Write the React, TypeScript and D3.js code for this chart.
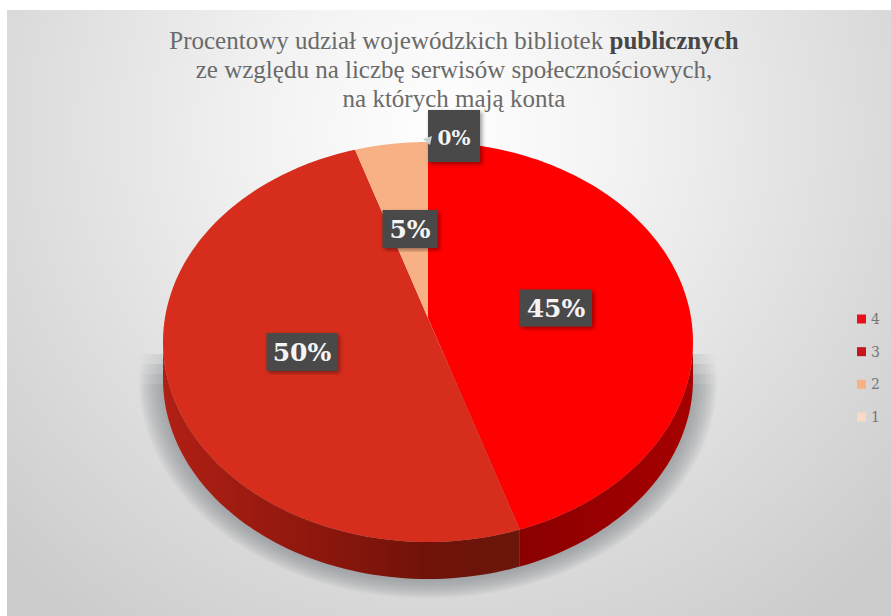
import { useEffect, useRef } from 'react';
import * as d3 from 'd3';

const categories = ['4', '3', '2', '1'];
const shares = [45, 50, 5, 0];
const shareLabels = ['45%', '50%', '5%', '0%'];
const topColors = ['#fe0000', '#d62d1c', '#f7b185', '#fbd9c8'];
const legendColors = ['#e8101c', '#c4161c', '#f7b185', '#fbd9c8'];
const titleLines = [
    [['Procentowy udział wojewódzkich bibliotek ', 400], ['publicznych', 700]],
    [['ze względu na liczbę serwisów społecznościowych,', 400]],
    [['na których mają konta', 400]],
] as [string, number][][];

const W = 891;
const H = 616;

export default function App() {
    const svgRef = useRef<SVGSVGElement>(null);

    useEffect(() => {
        if (!svgRef.current) return;
        const svg = d3.select(svgRef.current);
        svg.selectAll('*').remove();

        const defs = svg.append('defs');
        const bg = defs.append('radialGradient').attr('id', 'bg')
            .attr('gradientUnits', 'userSpaceOnUse')
            .attr('cx', 445).attr('cy', 130).attr('r', 620);
        bg.append('stop').attr('offset', '0%').attr('stop-color', '#ffffff');
        bg.append('stop').attr('offset', '30%').attr('stop-color', '#f2f2f2');
        bg.append('stop').attr('offset', '65%').attr('stop-color', '#dedede');
        bg.append('stop').attr('offset', '100%').attr('stop-color', '#cbcbcb');
        const labelShadow = defs.append('filter').attr('id', 'labelShadow');
        labelShadow.append('feDropShadow').attr('dx', 2).attr('dy', 2)
            .attr('stdDeviation', 2).attr('flood-color', '#000').attr('flood-opacity', 0.4);

        // Wall shading
        const wall3 = defs.append('linearGradient').attr('id', 'wall3')
            .attr('gradientUnits', 'userSpaceOnUse')
            .attr('x1', 165).attr('x2', 515).attr('y1', 0).attr('y2', 0);
        wall3.append('stop').attr('offset', '0%').attr('stop-color', '#b01f14');
        wall3.append('stop').attr('offset', '45%').attr('stop-color', '#8c170d');
        wall3.append('stop').attr('offset', '75%').attr('stop-color', '#701209');
        wall3.append('stop').attr('offset', '100%').attr('stop-color', '#6b160b');
        const wall4 = defs.append('linearGradient').attr('id', 'wall4')
            .attr('gradientUnits', 'userSpaceOnUse')
            .attr('x1', 515).attr('x2', 693).attr('y1', 0).attr('y2', 0);
        wall4.append('stop').attr('offset', '0%').attr('stop-color', '#8a0000');
        wall4.append('stop').attr('offset', '100%').attr('stop-color', '#a60000');
        const sideFills = ['url(#wall4)', 'url(#wall3)', '#b07a55', '#b59a8a'];

        // Shadow: soft rim from a radial gradient
        const soft = defs.append('radialGradient').attr('id', 'shadowSoft');
        soft.append('stop').attr('offset', '88%').attr('stop-color', '#8f9396').attr('stop-opacity', 0.4);
        soft.append('stop').attr('offset', '94%').attr('stop-color', '#8f9396').attr('stop-opacity', 0.2);
        soft.append('stop').attr('offset', '100%').attr('stop-color', '#8f9396').attr('stop-opacity', 0);

        svg.append('rect').attr('width', W).attr('height', H).attr('fill', '#fff');
        svg.append('rect').attr('x', 7).attr('y', 10).attr('width', W - 7).attr('height', H - 10)
            .attr('fill', 'url(#bg)');

        // Pie geometry
        const cx = 428;
        const cy = 342;
        const rx = 265;
        const ry = 200;
        const depth = 37;
        const tilt = -0.12; // the pie is drawn in perspective, its apex sits above the ellipse centre

        const arcs = d3.pie<number>().sort(null)(shares);

        // Soft shadow under the pie, stacked copies so its top edge fades in
        [354, 364, 374, 384].forEach((top, i) => {
            defs.append('clipPath').attr('id', `shadowClip${i}`)
                .append('rect').attr('x', 0).attr('y', top).attr('width', W).attr('height', H - top);
            svg.append('ellipse')
                .attr('clip-path', `url(#shadowClip${i})`)
                .attr('cx', cx).attr('cy', cy + depth)
                .attr('rx', rx + 25).attr('ry', ry + 20)
                .attr('fill', 'url(#shadowSoft)');
        });

        // Pie angle to a point on the rim of the ellipse
        const rim = (a: number): [number, number] => {
            const x = Math.sin(a);
            const y = -Math.cos(a);
            const d = 1 + tilt * y;
            return [cx + (rx * x * Math.sqrt(1 - tilt * tilt)) / d, cy + (ry * (y + tilt)) / d];
        };
        const apex: [number, number] = [cx, cy + ry * tilt];
        const sweep = (from: number, to: number) =>
            d3.range(0, 121).map(t => from + ((to - from) * t) / 120);
        const outline = d3.line<[number, number]>();

        // Side wall, only the part of each slice facing the viewer
        arcs.forEach((d, i) => {
            const upper = sweep(d.startAngle, d.endAngle).map(rim).filter(p => p[1] >= cy);
            if (upper.length < 2) return;
            const lower = upper.slice().reverse().map(p => [p[0], p[1] + depth] as [number, number]);
            svg.append('path')
                .attr('d', outline([...upper, ...lower]) + 'Z')
                .attr('fill', sideFills[i]);
        });

        // Top face
        svg.append('g')
            .selectAll('path')
            .data(arcs)
            .enter()
            .append('path')
            .attr('d', d => outline([apex, ...sweep(d.startAngle, d.endAngle).map(rim)]) + 'Z')
            .attr('fill', (_, i) => topColors[i]);

        // Title
        const title = svg.append('text')
            .attr('text-anchor', 'middle')
            .attr('font-family', '"Liberation Serif", serif')
            .attr('font-size', 25)
            .attr('fill', '#6a6a6a');
        titleLines.forEach((runs, i) => {
            const line = title.append('tspan').attr('x', 454).attr('y', 49 + i * 29);
            runs.forEach(([t, weight]) => {
                line.append('tspan').attr('font-weight', weight).attr('fill', weight === 700 ? '#474747' : '#6a6a6a').text(t);
            });
        });

        // Data labels
        const labelPos: [number, number, number, number][] = [
            [556, 308, 72, 37],
            [302, 352, 71, 38],
            [410, 229, 55, 38],
            [454, 136, 52, 52],
        ];
        arcs.forEach((_, i) => {
            const [lx, ly, lw, lh] = labelPos[i];
            const g = svg.append('g');
            g.append('rect')
                .attr('x', lx - lw / 2).attr('y', ly - lh / 2)
                .attr('width', lw).attr('height', lh)
                .attr('fill', '#484848')
                .attr('filter', 'url(#labelShadow)');
            g.append('text')
                .attr('x', lx).attr('y', ly + 9)
                .attr('text-anchor', 'middle')
                .attr('font-family', '"DejaVu Serif", serif')
                .attr('font-weight', 700)
                .attr('font-size', i === 3 ? 20 : 25)
                .attr('fill', '#f4f4f4')
                .text(shareLabels[i]);
        });

        // Little leader next to the 0% label
        svg.append('path')
            .attr('d', d3.line()([[423, 139], [432, 136], [430, 145]]) + 'Z')
            .attr('fill', '#c9d3d6');

        // Legend
        const legend = d3.scalePoint<string>().domain(categories).range([319, 417]);
        categories.forEach((c, i) => {
            const y = legend(c) as number;
            svg.append('rect')
                .attr('x', 857).attr('y', y - 4.5)
                .attr('width', 9).attr('height', 9)
                .attr('fill', legendColors[i]);
            svg.append('text')
                .attr('x', 871).attr('y', y + 5)
                .attr('font-family', '"DejaVu Serif", serif')
                .attr('font-size', 14)
                .attr('fill', '#777')
                .text(c);
        });
    }, []);

    return <svg ref={svgRef} width={W} height={H} style={{ position: 'absolute', left: 0, top: 0 }} />;
}
